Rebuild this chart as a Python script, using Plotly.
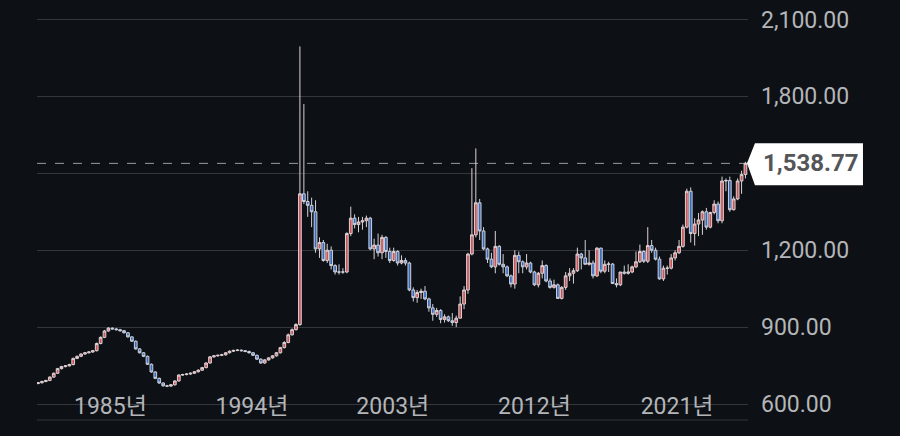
import pandas as pd
import plotly.graph_objects as go

# Quarterly candles, 1981Q1 .. 2026Q2
quarters = pd.period_range("1981Q1", "2026Q2", freq="Q")
dates = [(q.start_time + pd.Timedelta(days=45)).strftime("%Y-%m-%d") for q in quarters]

open_ = [
    680, 683, 688, 692,  705, 720, 738, 746,  749, 754, 778, 786,  795, 800, 803, 808,
    836, 860, 885, 896,  893, 890, 886, 878,  862, 845, 815, 800,  786, 755, 725, 700,
    682, 671, 670, 675,  690, 713, 715, 717,  720, 726, 732, 742,  760, 784, 788, 790,
    792, 800, 806, 809,  810, 808, 805, 800,  790, 775, 760, 772,  780, 788, 800, 820,
    840, 870, 890, 910,  1420, 1390, 1375, 1350,  1205, 1230, 1160, 1200,  1140, 1115, 1115, 1115,
    1265, 1325, 1300, 1310,  1315, 1325, 1205, 1220,  1190, 1250, 1195, 1160,  1195, 1150, 1160, 1150,
    1045, 1015, 1035, 1040,  1010, 975, 950, 965,  930, 940, 925, 918,  935, 990, 1045, 1185,
    1260, 1385, 1275, 1205,  1165, 1135, 1215, 1145,  1135, 1100, 1068, 1180,  1155, 1135, 1150, 1115,
    1065, 1110, 1140, 1080,  1055, 1065, 1012, 1055,  1100, 1110, 1120, 1185,  1170, 1145, 1150, 1100,
    1208, 1118, 1145, 1146,  1070, 1065, 1115, 1110,  1115, 1135, 1155, 1195,  1157, 1218, 1200, 1165,
    1088, 1130, 1130, 1170,  1190, 1215, 1290, 1430,  1265, 1302, 1318, 1350,  1290, 1347, 1380, 1315,
    1470, 1472, 1358, 1400,  1470, 1495,
]
high = [
    686, 691, 694, 708,  723, 741, 749, 752,  757, 781, 789, 798,  803, 806, 811, 840,
    864, 889, 900, 899,  896, 893, 889, 880,  864, 848, 818, 803,  789, 758, 728, 703,
    685, 675, 678, 693,  716, 718, 720, 723,  729, 735, 745, 763,  787, 791, 793, 796,
    803, 809, 812, 814,  813, 811, 808, 803,  793, 778, 775, 783,  791, 803, 823, 845,
    875, 895, 915, 1995,  1770, 1430, 1405, 1395,  1250, 1240, 1225, 1215,  1145, 1145, 1130, 1270,
    1370, 1340, 1330, 1330,  1335, 1330, 1245, 1265,  1260, 1255, 1210, 1210,  1200, 1180, 1170, 1155,
    1055, 1045, 1050, 1060,  1015, 990, 975, 970,  950, 945, 955, 945,  1020, 1060, 1190, 1520,
    1597, 1400, 1290, 1210,  1190, 1275, 1220, 1185,  1140, 1105, 1200, 1195,  1160, 1185, 1155, 1120,
    1115, 1160, 1145, 1090,  1085, 1070, 1060, 1115,  1130, 1130, 1210, 1190,  1240, 1200, 1160, 1212,
    1210, 1160, 1155, 1150,  1090, 1115, 1140, 1145,  1140, 1195, 1222, 1200,  1290, 1240, 1210, 1175,
    1140, 1140, 1185, 1200,  1240, 1300, 1440, 1445,  1325, 1345, 1355, 1365,  1350, 1395, 1390, 1487,
    1480, 1487, 1410, 1480,  1510, 1545,
]
low = [
    677, 680, 685, 689,  702, 717, 735, 743,  746, 751, 775, 783,  792, 797, 800, 805,
    833, 857, 882, 890,  887, 883, 875, 859,  842, 812, 797, 783,  752, 722, 697, 679,
    668, 666, 667, 672,  687, 710, 712, 714,  717, 723, 729, 739,  757, 781, 785, 787,
    789, 797, 803, 806,  805, 802, 797, 787,  772, 757, 757, 769,  777, 785, 797, 817,
    837, 867, 887, 905,  1380, 1330, 1290, 1190,  1170, 1155, 1150, 1125,  1105, 1105, 1108, 1110,
    1255, 1285, 1270, 1280,  1290, 1200, 1165, 1175,  1165, 1170, 1150, 1155,  1140, 1145, 1140, 1040,
    1000, 995, 1010, 1005,  960, 925, 940, 915,  918, 920, 905, 900,  935, 970, 1030, 1180,
    1250, 1240, 1200, 1150,  1130, 1110, 1140, 1110,  1095, 1055, 1050, 1110,  1110, 1125, 1110, 1060,
    1055, 1090, 1075, 1050,  1050, 1010, 1008, 1045,  1080, 1070, 1115, 1125,  1145, 1140, 1090, 1095,
    1110, 1110, 1115, 1070,  1055, 1060, 1105, 1105,  1110, 1130, 1150, 1150,  1150, 1190, 1160, 1085,
    1080, 1105, 1125, 1160,  1185, 1210, 1285, 1230,  1218, 1255, 1260, 1280,  1285, 1340, 1305, 1305,
    1430, 1350, 1355, 1395,  1420, 1480,
]
close = [
    683, 688, 692, 705,  720, 738, 746, 749,  754, 778, 786, 795,  800, 803, 808, 836,
    860, 885, 896, 893,  890, 886, 878, 862,  845, 815, 800, 786,  755, 725, 700, 682,
    671, 670, 675, 690,  713, 715, 717, 720,  726, 732, 742, 760,  784, 788, 790, 792,
    800, 806, 809, 810,  808, 805, 800, 790,  775, 760, 772, 780,  788, 800, 820, 840,
    870, 890, 910, 1420,  1390, 1375, 1350, 1205,  1230, 1160, 1200, 1140,  1115, 1115, 1115, 1265,
    1325, 1300, 1310, 1315,  1325, 1205, 1220, 1190,  1250, 1195, 1160, 1195,  1150, 1160, 1150, 1045,
    1015, 1035, 1040, 1010,  975, 950, 965, 930,  940, 925, 918, 935,  990, 1045, 1185, 1260,
    1385, 1275, 1205, 1165,  1135, 1215, 1145, 1135,  1100, 1068, 1180, 1155,  1135, 1150, 1115, 1065,
    1110, 1140, 1080, 1055,  1065, 1012, 1055, 1100,  1110, 1120, 1185, 1170,  1145, 1150, 1100, 1208,
    1118, 1145, 1146, 1070,  1065, 1115, 1110, 1115,  1135, 1155, 1195, 1157,  1218, 1200, 1165, 1088,
    1130, 1130, 1170, 1190,  1215, 1290, 1430, 1265,  1302, 1318, 1350, 1290,  1347, 1380, 1315, 1470,
    1472, 1358, 1400, 1470,  1495, 1538.77,
]

y_tick_vals = [600, 900, 1200, 1500, 1800, 2100]
y_tick_text = ["600.00", "900.00", "1,200.00", "", "1,800.00", "2,100.00"]
x_tick_vals = ["1985-10-01", "1994-10-20", "2003-10-25", "2012-11-15", "2021-12-31"]
x_tick_text = ["1985년", "1994년", "2003년", "2012년", "2021년"]

BG = "#0d1014"
GRID = "#33363b"
LABEL = "#b3b5b9"
FONT = "Roboto, 'Noto Sans CJK KR', sans-serif"

fig = go.Figure()
fig.add_trace(go.Candlestick(
    x=dates, open=open_, high=high, low=low, close=close,
    increasing=dict(line=dict(color="#ddd2d5", width=1), fillcolor="#c9555a"),
    decreasing=dict(line=dict(color="#ccd1dc", width=1), fillcolor="#3b68b8"),
    whiskerwidth=0,
    showlegend=False,
    hoverinfo="skip",
))

last = close[-1]
fig.add_shape(type="line", xref="paper", x0=0, x1=1, yref="y", y0=last, y1=last,
              line=dict(color="#9a9ca0", width=1, dash="dash"), layer="below")
# bottom frame line
fig.add_shape(type="line", xref="paper", x0=0, x1=1, yref="paper", y0=0, y1=0,
              line=dict(color=GRID, width=1), layer="below")

# price tag
fig.add_shape(type="path", xref="paper", yref="y",
              path=f"M 0.9986,{last} L 1.0098,1617 L 1.1617,1617 L 1.1617,1453 L 1.0098,1453 Z",
              fillcolor="#ffffff", line=dict(width=0), layer="above")
fig.add_annotation(xref="paper", yref="y", x=1.0886, y=last, text=f"<b>{last:,.2f}</b>",
                   showarrow=False, font=dict(family=FONT, size=24, color="#545558"),
                   xanchor="center", yanchor="middle")

fig.update_layout(
    width=900, height=436,
    paper_bgcolor=BG, plot_bgcolor=BG,
    margin=dict(l=37, r=152, t=0, b=16),
    font=dict(family=FONT, color=LABEL, size=23),
    boxgap=0.3, boxgroupgap=0,
    xaxis=dict(
        type="date", range=["1981-01-20", "2026-07-15"],
        rangeslider=dict(visible=False),
        tickvals=x_tick_vals, ticktext=x_tick_text,
        anchor="free", position=0.072, ticks="",
        showgrid=False, zeroline=False, showline=False,
        tickfont=dict(family=FONT, size=23, color=LABEL),
    ),
    yaxis=dict(
        side="right", range=[537.7, 2176],
        tickvals=y_tick_vals, ticktext=y_tick_text,
        showgrid=True, gridcolor=GRID, gridwidth=1,
        zeroline=False, ticks="", ticklabelstandoff=12,
        tickfont=dict(family=FONT, size=23, color=LABEL),
    ),
)

fig.write_html("out.html", config={"displayModeBar": False},
               post_script="document.body.style.margin='0';document.body.style.background='#0d1014';")
